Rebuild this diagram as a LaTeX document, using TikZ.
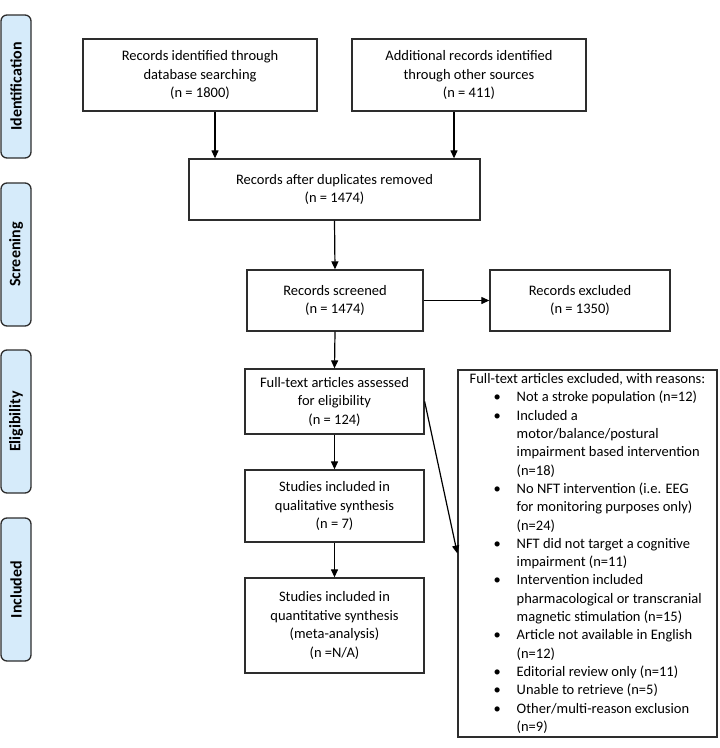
\documentclass[tikz,border=0pt]{standalone}
\usepackage{fontspec}
\setmainfont{Carlito}
\usetikzlibrary{arrows.meta}
\definecolor{phasefill}{RGB}{214,235,250}
\definecolor{linegray}{RGB}{45,45,45}
\newcommand{\rbul}{\makebox[47pt][l]{\hspace{24pt}\textbullet}}
\newcommand{\rind}{\hspace*{47pt}}

\begin{document}
\begin{tikzpicture}[x=1pt,y=1pt,
	box/.style={draw=linegray, line width=1.3pt, align=center, inner sep=0pt, font=\fontsize{14.5}{18.5}\selectfont},
	phase/.style={draw=linegray, fill=phasefill, line width=1.3pt, rounded corners=6pt, rotate=90, inner sep=0pt,
		minimum width=143pt, minimum height=30pt, font=\bfseries\fontsize{16}{18}\selectfont},
	flow/.style={-{Triangle[width=7pt,length=8pt]}, line width=1.2pt}]
			\useasboundingbox (0,0) rectangle (720,-748);
			\node [phase] (idphase) at (16,-86.5) {Identification};
			\node [phase] (scphase) at (16,-254.5) {Screening};
			\node [phase] (elphase) at (16,-421.5) {Eligibility};
			\node [phase] (inphase) at (16,-589.5) {Included};
			\node [box, minimum width=234pt, minimum height=72pt] (dbase) at (200,-75) {Records identified through\\database searching\\(n = 1800)};
			\node [box, minimum width=234pt, minimum height=72pt] (other) at (469,-75) {Additional records identified\\through other sources\\(n = 411)};
			\node [box, minimum width=291pt, minimum height=61pt] (dup) at (334.5,-189.5) {Records after duplicates removed\\(n = 1474)};
			\node [box, minimum width=176pt, minimum height=61pt] (screened) at (335,-300.5) {Records screened\\(n = 1474)};
			\node [box, minimum width=180pt, minimum height=61pt] (excl) at (580,-300.5) {Records excluded\\(n = 1350)};
			\node [box, minimum width=179pt, minimum height=65pt] (full) at (334.5,-401.5) {Full-text articles assessed\\for eligibility\\(n = 124)};
			\node [box, minimum width=179pt, minimum height=72pt] (qual) at (334.5,-506) {Studies included in\\qualitative synthesis\\(n = 7)};
			\node [box, minimum width=179pt, minimum height=95pt] (quant) at (334.5,-625.5) {Studies included in\\quantitative synthesis\\(meta-analysis)\\(n =N/A)};
			\node [box, align=left, minimum width=259pt, minimum height=367pt, font=\fontsize{14.5}{18.3}\selectfont] (reasons) at (587.5,-553.5) {Full-text articles excluded, with reasons:\\
				\rbul Not a stroke population (n=12)\\
				\rbul Included a\\
				\rind motor/balance/postural\\
				\rind impairment based intervention\\
				\rind (n=18)\\
				\rbul No NFT intervention (i.e. EEG\\
				\rind for monitoring purposes only)\\
				\rind (n=24)\\
				\rbul NFT did not target a cognitive\\
				\rind impairment (n=11)\\
				\rbul Intervention included\\
				\rind pharmacological or transcranial\\
				\rind magnetic stimulation (n=15)\\
				\rbul Article not available in English\\
				\rind (n=12)\\
				\rbul Editorial review only (n=11)\\
				\rbul Unable to retrieve (n=5)\\
				\rbul Other/multi-reason exclusion\\
				\rind (n=9)};
			\draw [flow] ([xshift=15pt]dbase.south) -- ([xshift=15pt]dbase.south |- dup.north);
			\draw [flow] ([xshift=-15pt]other.south) -- ([xshift=-15pt]other.south |- dup.north);
			\draw [flow] (dup.south) -- (screened.north);
			\draw [flow] (screened.east) -- (excl.west);
			\draw [flow] (screened.south) -- (full.north);
			\draw [flow] (full.south) -- (qual.north);
			\draw [flow] (qual.south) -- (quant.north);
			\draw [flow] (full.east) -- (reasons.west);
		\end{tikzpicture}
\end{document}
